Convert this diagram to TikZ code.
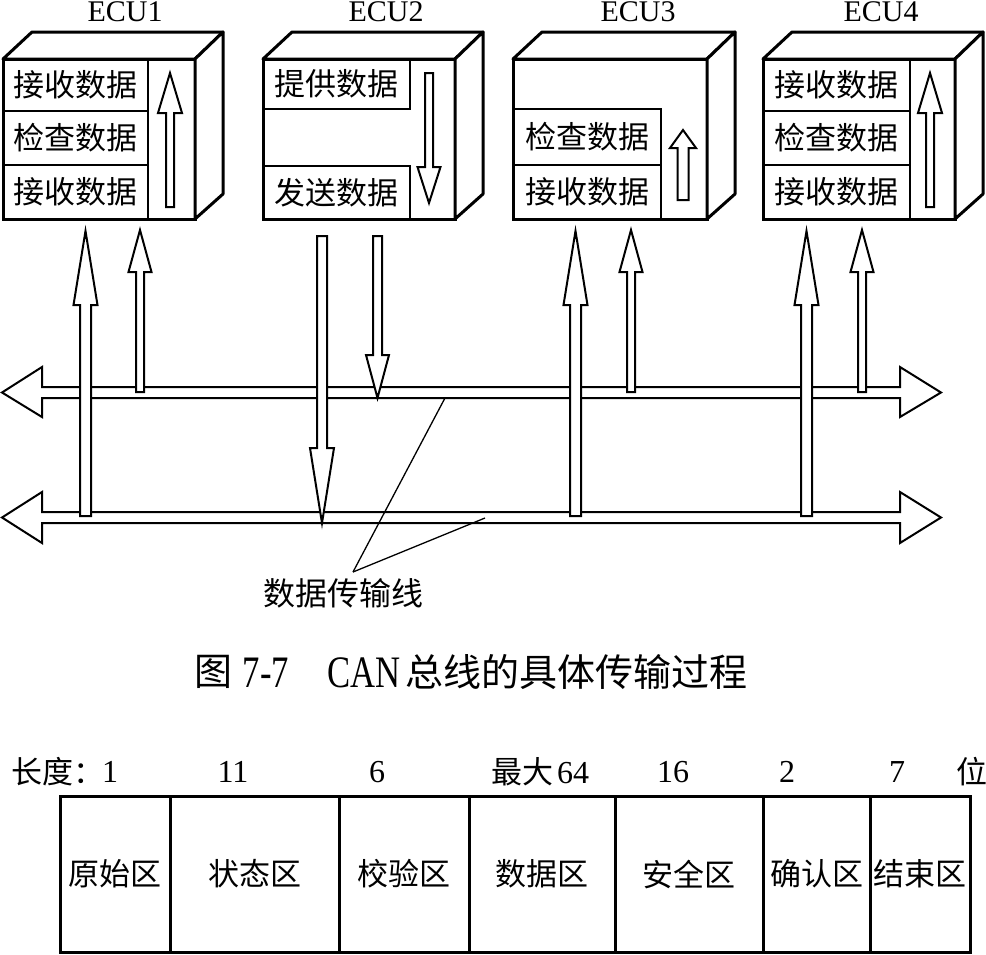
\documentclass[tikz,border=0pt]{standalone}
\usepackage{fontspec}
\setmainfont{Liberation Serif}
\newfontfamily\cjk{Noto Sans CJK SC}
\newfontfamily\capfont[FakeStretch=0.77]{Liberation Serif}
\usetikzlibrary{calc}
\newcommand\hollowarrow[5]{%
  \draw[blockarrow] let \p1=(#1), \p2=(#2) in
    ({\x1-#3pt},\y1) -- ({\x1-#3pt},{\y2-(#5pt)}) -- ({\x1-#4pt},{\y2-(#5pt)}) -- (\x2,\y2)
    -- ({\x1+#4pt},{\y2-(#5pt)}) -- ({\x1+#3pt},{\y2-(#5pt)}) -- ({\x1+#3pt},\y1) -- cycle;}
\tikzset{
  front/.style={draw, line width=3pt, fill=white, rectangle, inner sep=0pt, outer sep=0pt,
    minimum width=192pt, minimum height=160pt},
  edge/.style={draw, line width=3pt, fill=white, line join=round},
  cell/.style={draw, line width=2.5pt, rectangle, inner sep=0pt, outer sep=0pt,
    font=\cjk\fontsize{31}{31}\selectfont},
  ecutitle/.style={inner sep=0pt, font=\fontsize{30}{30}\selectfont},
  blockarrow/.style={draw, line width=2pt, fill=white, line join=miter},
  bus/.style={draw, line width=2pt, fill=white},
  leader/.style={draw, line width=1.3pt},
  tcell/.style={draw, line width=3pt, rectangle, inner sep=0pt, outer sep=0pt,
    minimum height=156pt, font=\cjk\fontsize{31}{31}\selectfont},
  num/.style={inner sep=0pt, font=\fontsize{32}{32}\selectfont},
  cjktext/.style={inner sep=0pt, font=\cjk\fontsize{31}{31}\selectfont},
  capcjk/.style={inner sep=0pt, font=\cjk\fontsize{38}{38}\selectfont},
  caplat/.style={inner sep=0pt, font=\capfont\fontsize{45}{45}\selectfont},
}
\begin{document}
\begin{tikzpicture}[x=1pt,y=-1pt]
\useasboundingbox (0,0) rectangle (986,954);
\fill[white] (0,0) rectangle (986,954);

% ---------- titles ----------
\node[ecutitle] (t1) at (125,12) {ECU1};
\node[ecutitle] (t2) at (386,12) {ECU2};
\node[ecutitle] (t3) at (638,12) {ECU3};
\node[ecutitle] (t4) at (881,12) {ECU4};

% ---------- ECU boxes ----------
\foreach \n/\cx/\w in {e1/99/192, e2/359/192, e3/610/194, e4/859/192}{
  \node[front, minimum width=\w pt] (\n) at (\cx,139) {};
  \draw[edge] (\n.north west) -- ++(29,-27) -- ($(\n.north east)+(28,-27)$) -- (\n.north east) -- cycle;
  \draw[edge] (\n.north east) -- ++(28,-27) -- ($(\n.south east)+(28,-25)$) -- (\n.south east) -- cycle;
}

% ECU1 cells
\node[cell, minimum width=145pt, minimum height=52pt] (c11) at (75.5,85) {接收数据};
\node[cell, minimum width=145pt, minimum height=54pt] (c12) at (75.5,138) {检查数据};
\node[cell, minimum width=145pt, minimum height=54pt] (c13) at (75.5,192) {接收数据};
% ECU2 cells
\node[cell, minimum width=147pt, minimum height=50pt] (c21) at (336.5,84) {提供数据};
\node[cell, minimum width=147pt, minimum height=53pt] (c22) at (336.5,192.5) {发送数据};
% ECU3 cells
\node[cell, minimum width=148pt, minimum height=56pt] (c31) at (587,137) {检查数据};
\node[cell, minimum width=148pt, minimum height=54pt] (c32) at (587,192) {接收数据};
% ECU4 cells
\node[cell, minimum width=147pt, minimum height=52pt] (c41) at (836.5,85) {接收数据};
\node[cell, minimum width=147pt, minimum height=54pt] (c42) at (836.5,138) {检查数据};
\node[cell, minimum width=147pt, minimum height=54pt] (c43) at (836.5,192) {接收数据};

% inner arrows
\coordinate (i1s) at (170,207); \coordinate (i1t) at (170,73);
\coordinate (i2s) at (429,73);  \coordinate (i2t) at (429,203);
\coordinate (i3s) at (683,200); \coordinate (i3t) at (683,130);
\coordinate (i4s) at (930,207); \coordinate (i4t) at (930,73);
\hollowarrow{i1s}{i1t}{4}{12}{40}
\hollowarrow{i2s}{i2t}{4}{11.5}{-36}
\hollowarrow{i3s}{i3t}{5.5}{13}{18}
\hollowarrow{i4s}{i4t}{4}{12}{40}

% ---------- buses ----------
\draw[bus] (42,387) -- (900,387) -- (900,367) -- (941,392.5) -- (900,417) -- (900,398)
  -- (42,398) -- (42,417) -- (2,392.5) -- (42,367) -- cycle;
\draw[bus] (42,512) -- (900,512) -- (900,492) -- (941,517.5) -- (900,543) -- (900,523)
  -- (42,523) -- (42,543) -- (2,517.5) -- (42,492) -- cycle;

% ---------- outer arrows ----------
\coordinate (aS) at (85.5,516); \coordinate (aT) at (85.5,231);
\coordinate (bS) at (140,392);  \coordinate (bT) at (140,230);
\coordinate (cS) at (322,236);  \coordinate (cT) at (322,523);
\coordinate (dS) at (377.5,236);\coordinate (dT) at (377.5,398);
\coordinate (eS) at (575.5,516);\coordinate (eT) at (575.5,231);
\coordinate (fS) at (631,392);  \coordinate (fT) at (631,230);
\coordinate (gS) at (806.5,516);\coordinate (gT) at (806.5,231);
\coordinate (hS) at (862,392);  \coordinate (hT) at (862,230);
\hollowarrow{aS}{aT}{5.5}{12}{74}
\hollowarrow{bS}{bT}{4}{11.5}{42}
\hollowarrow{cS}{cT}{5}{12}{-75}
\hollowarrow{dS}{dT}{4.5}{11.5}{-43}
\hollowarrow{eS}{eT}{5.5}{12}{74}
\hollowarrow{fS}{fT}{4}{11.5}{42}
\hollowarrow{gS}{gT}{5.5}{12}{74}
\hollowarrow{hS}{hT}{4}{11.5}{42}

% ---------- leader ----------
\node[inner sep=0pt, font=\cjk\fontsize{32}{32}\selectfont] (lbl) at (343,593) {数据传输线};
\coordinate (lt) at (353,572);
\coordinate (bl1) at (445,398);
\coordinate (bl2) at (485,518);
\draw[leader] (lt) -- (bl1);
\draw[leader] (lt) -- (bl2);

% ---------- caption ----------
\node[capcjk] (cap1) at (213,672) {图};
\node[caplat] (cap2) at (266,673) {7-7};
\node[caplat] (cap3) at (364,673) {CAN};
\node[capcjk] (cap4) at (576.5,672) {总线的具体传输过程};

% ---------- frame table ----------
\node[tcell, minimum width=110pt] (f1) at (115,874) {原始区};
\node[tcell, minimum width=169pt] (f2) at (254.5,874) {状态区};
\node[tcell, minimum width=130pt] (f3) at (404,874) {校验区};
\node[tcell, minimum width=146pt] (f4) at (542,874) {数据区};
\node[tcell, minimum width=148pt] (f5) at (689,874) {安全区};
\node[tcell, minimum width=107pt] (f6) at (816.5,874) {确认区};
\node[tcell, minimum width=100pt] (f7) at (920,874) {结束区};

\node[cjktext, anchor=west] (l0) at (11,772) {长度：};
\node[num] (l1) at (110,772) {1};
\node[num] (l2) at (233,772) {11};
\node[num] (l3) at (377,772) {6};
\node[num] (l4) at (540,772) {{\cjk\fontsize{31}{31}\selectfont 最大}\hspace{4pt}64};
\node[num] (l5) at (673,772) {16};
\node[num] (l6) at (787,772) {2};
\node[num] (l7) at (897,772) {7};
\node[cjktext] (l8) at (972,772) {位};
\end{tikzpicture}
\end{document}
